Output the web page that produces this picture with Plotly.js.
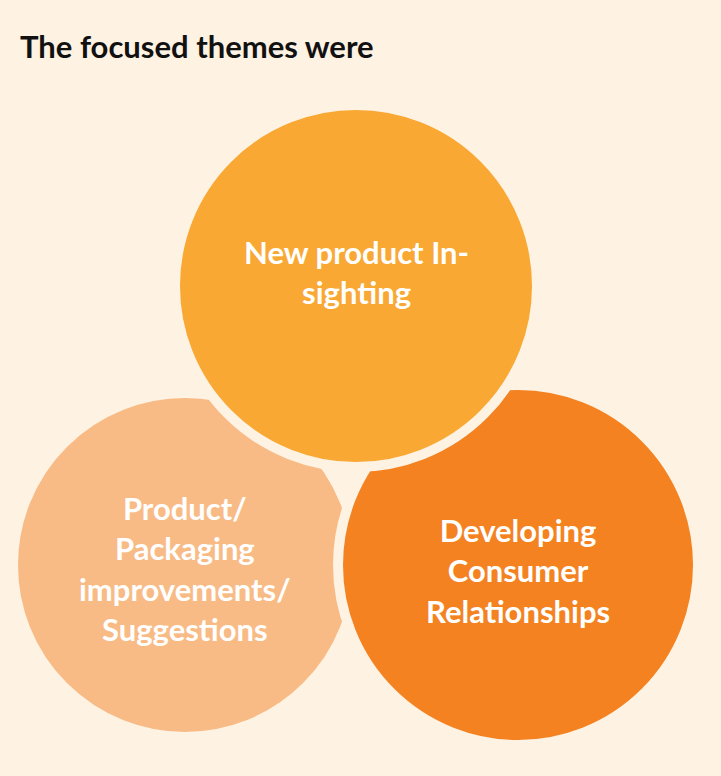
<!DOCTYPE html>
<html><head><meta charset="utf-8">
<script src="https://cdn.plot.ly/plotly-3.0.1.min.js"></script>
<style>body{margin:0;background:#FEF2E3}</style></head>
<body><div id="c" style="width:721px;height:776px"></div>
<script>
const themes = ["Product/<br>Packaging<br>improvements/<br>Suggestions", "Developing<br>Consumer<br>Relationships", "New product In-<br>sighting"];
const cx = [185, 518, 356];
const cy = [565, 565, 286];
const r = [172, 180, 181];
const colors = ["#F9BB85", "#F48221", "#F9A833"];
const textY = [568, 570, 272];

const shapes = themes.map((t,i)=>({type:'circle',xref:'x',yref:'y',
  x0:cx[i]-r[i],x1:cx[i]+r[i],y0:cy[i]-r[i],y1:cy[i]+r[i],
  fillcolor:colors[i],line:{color:'#FEF2E3',width:10},layer:'above'}));
const annotations = themes.map((t,i)=>({x:cx[i],y:textY[i],xref:'x',yref:'y',text:t,showarrow:false,
  font:{family:'Lato',size:31,color:'#FFFFFF',weight:'bold'},align:'center'}));
annotations.push({x:18,y:46,xref:'x',yref:'y',xanchor:'left',text:'<b>The focused themes were</b>',showarrow:false,
  font:{family:'Lato',size:31,color:'#111111'}});
Plotly.newPlot('c',[{x:[0],y:[0],mode:'markers',marker:{opacity:0},hoverinfo:'skip'}],{
  width:721,height:776,margin:{l:0,r:0,t:0,b:0},
  paper_bgcolor:'#FEF2E3',plot_bgcolor:'#FEF2E3',showlegend:false,
  xaxis:{range:[0,721],visible:false,fixedrange:true},
  yaxis:{range:[776,0],visible:false,fixedrange:true},
  shapes,annotations},{staticPlot:true});
</script></body></html>
